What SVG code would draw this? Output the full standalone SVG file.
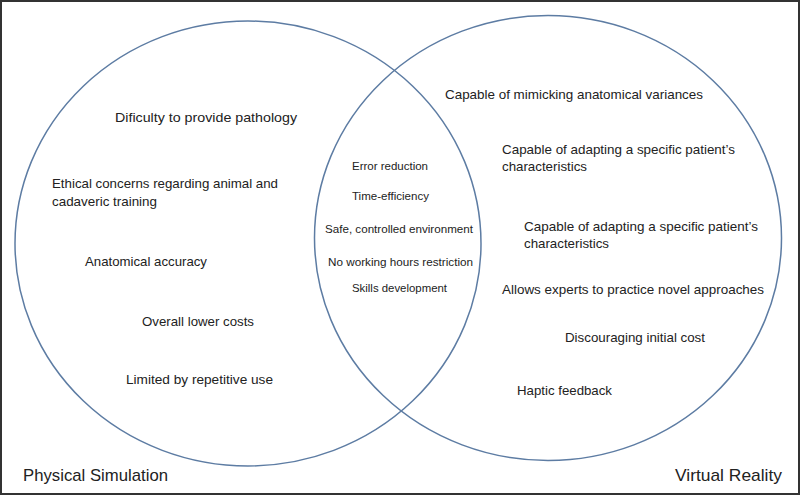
<svg xmlns="http://www.w3.org/2000/svg" width="800" height="495" viewBox="0 0 800 495">
<style>
.set{fill:none;stroke:#5d7ca3;stroke-width:1.5}
text{font-family:"Liberation Sans",Arial,sans-serif;fill:#222}
.t{font-size:13px}
.m{font-size:10.5px}
.l{font-size:17px}
</style>
<rect x="1" y="1" width="798" height="493" fill="#fff" stroke="#333" stroke-width="2"/>
<g id="connectors"></g>
<g id="physical">
<ellipse class="set" cx="248" cy="243.5" rx="233" ry="222.5"/>
<text class="l" x="23" y="481" textLength="145" lengthAdjust="spacingAndGlyphs">Physical Simulation</text>
<text class="t" x="115" y="122" textLength="182" lengthAdjust="spacingAndGlyphs">Dificulty to provide pathology</text>
<text class="t" x="52" y="188" textLength="226" lengthAdjust="spacingAndGlyphs">Ethical concerns regarding animal and</text>
<text class="t" x="52" y="206" textLength="105" lengthAdjust="spacingAndGlyphs">cadaveric training</text>
<text class="t" x="85" y="266" textLength="122" lengthAdjust="spacingAndGlyphs">Anatomical accuracy</text>
<text class="t" x="142" y="326" textLength="112" lengthAdjust="spacingAndGlyphs">Overall lower costs</text>
<text class="t" x="126" y="384" textLength="147" lengthAdjust="spacingAndGlyphs">Limited by repetitive use</text>
</g>
<g id="virtual">
<ellipse class="set" cx="548" cy="238" rx="233.5" ry="222.5"/>
<text class="l" x="675" y="481" textLength="107" lengthAdjust="spacingAndGlyphs">Virtual Reality</text>
<text class="t" x="445" y="99" textLength="258" lengthAdjust="spacingAndGlyphs">Capable of mimicking anatomical variances</text>
<text class="t" x="502" y="154" textLength="233" lengthAdjust="spacingAndGlyphs">Capable of adapting a specific patient’s</text>
<text class="t" x="502" y="171" textLength="85" lengthAdjust="spacingAndGlyphs">characteristics</text>
<text class="t" x="524" y="231" textLength="234" lengthAdjust="spacingAndGlyphs">Capable of adapting a specific patient’s</text>
<text class="t" x="524" y="248" textLength="85" lengthAdjust="spacingAndGlyphs">characteristics</text>
<text class="t" x="502" y="294" textLength="262" lengthAdjust="spacingAndGlyphs">Allows experts to practice novel approaches</text>
<text class="t" x="565" y="342" textLength="140" lengthAdjust="spacingAndGlyphs">Discouraging initial cost</text>
<text class="t" x="517" y="395" textLength="95" lengthAdjust="spacingAndGlyphs">Haptic feedback</text>
</g>
<g id="overlap">
<text class="m" x="352" y="170" textLength="76" lengthAdjust="spacingAndGlyphs">Error reduction</text>
<text class="m" x="352" y="200" textLength="77" lengthAdjust="spacingAndGlyphs">Time-efficiency</text>
<text class="m" x="325" y="233" textLength="148" lengthAdjust="spacingAndGlyphs">Safe, controlled environment</text>
<text class="m" x="328" y="266" textLength="145" lengthAdjust="spacingAndGlyphs">No working hours restriction</text>
<text class="m" x="352" y="292" textLength="95" lengthAdjust="spacingAndGlyphs">Skills development</text>
</g>
</svg>
